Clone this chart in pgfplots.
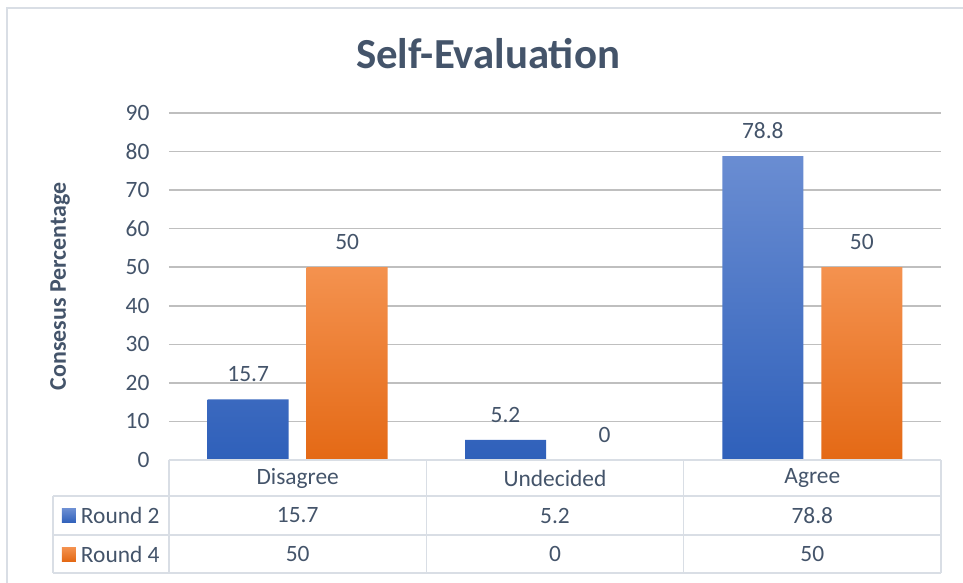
\documentclass[border=0pt]{standalone}
\usepackage{pgfplots}
\pgfplotsset{compat=1.18}
\usepackage{fontspec}
\setmainfont{Carlito}
\definecolor{txt}{HTML}{44546A}
\definecolor{grid}{HTML}{D9DEE5}
\definecolor{btop}{HTML}{6A8DD2}
\definecolor{bbot}{HTML}{2F60BA}
\definecolor{otop}{HTML}{F4924F}
\definecolor{obot}{HTML}{E46915}
\begin{document}
\begin{tikzpicture}[tl/.style={font=\fontsize{23.5}{28}\selectfont, text=txt}]
\useasboundingbox (-169bp,-123bp) rectangle (794bp,460bp);
\draw[grid, line width=1.5bp] (-162bp,-123bp) -- (-162bp,452bp) -- (794bp,452bp);
\begin{axis}[
  scale only axis,
  width=772bp, height=347bp,
  xmin=-0.5, xmax=2.5, ymin=0, ymax=90,
  ytick={0,10,...,90},
  xtick=\empty,
  axis line style={draw=none},
  tick style={draw=none},
  ymajorgrids,
  grid style={grid, line width=1.5bp},
  ybar=18bp, bar width=81bp,
  clip=false,
  /pgf/number format/assume math mode=true,
  yticklabel style={font=\fontsize{23.5}{28}\selectfont, text=txt, xshift=-16bp},
  title={\textbf{Self-Evaluation}},
  title style={font=\fontsize{43}{50}\selectfont, text=txt, at={(axis description cs:0.5,1)}, anchor=center, yshift=53bp, xshift=-67bp},
  nodes near coords,
  every node near coord/.append style={font=\fontsize{23.5}{28}\selectfont, text=txt, yshift=14bp},
]
\addplot[draw=none, top color=btop, bottom color=bbot] coordinates {(0,15.7) (1,5.2) (2,78.8)};
\addplot[draw=none, top color=otop, bottom color=obot] coordinates {(0,50) (1,0) (2,50)};
% y label
\node[font=\bfseries\fontsize{24}{28}\selectfont, text=txt, rotate=90] at ([xshift=-109bp]rel axis cs:0,0.5) {Consesus Percentage};
% data table
\draw[grid, line width=1.5bp] (axis cs:-0.5,0) -- (axis cs:2.5,0);
\draw[grid, line width=1.5bp] (axis cs:-0.951,-9.34) -- (axis cs:2.5,-9.34);
\draw[grid, line width=1.5bp] (axis cs:-0.951,-19.45) -- (axis cs:2.5,-19.45);
\draw[grid, line width=1.5bp] (axis cs:-0.951,-29.3) -- (axis cs:2.5,-29.3);
\draw[grid, line width=1.5bp] (axis cs:-0.951,-9.34) -- (axis cs:-0.951,-29.3);
\draw[grid, line width=1.5bp] (axis cs:-0.5,0) -- (axis cs:-0.5,-29.3);
\draw[grid, line width=1.5bp] (axis cs:0.5,0) -- (axis cs:0.5,-29.3);
\draw[grid, line width=1.5bp] (axis cs:1.5,0) -- (axis cs:1.5,-29.3);
\draw[grid, line width=1.5bp] (axis cs:2.5,0) -- (axis cs:2.5,-29.3);
\node[tl] at (axis cs:0,-4.67) {Disagree};
\node[tl] at (axis cs:1,-4.67) {Undecided};
\node[tl] at (axis cs:2,-4.67) {Agree};
\node[tl] at (axis cs:0,-14.4) {15.7};
\node[tl] at (axis cs:1,-14.4) {5.2};
\node[tl] at (axis cs:2,-14.4) {78.8};
\node[tl] at (axis cs:0,-24.4) {50};
\node[tl] at (axis cs:1,-24.4) {0};
\node[tl] at (axis cs:2,-24.4) {50};
\fill[top color=btop, bottom color=bbot] (axis cs:-0.916,-12.7) rectangle (axis cs:-0.862,-16.3);
\fill[top color=otop, bottom color=obot] (axis cs:-0.916,-22.6) rectangle (axis cs:-0.862,-26.2);
\node[tl, anchor=west, inner sep=0pt] at (axis cs:-0.843,-14.4) {Round 2};
\node[tl, anchor=west, inner sep=0pt] at (axis cs:-0.843,-24.4) {Round 4};
\end{axis}
\end{tikzpicture}
\end{document}
